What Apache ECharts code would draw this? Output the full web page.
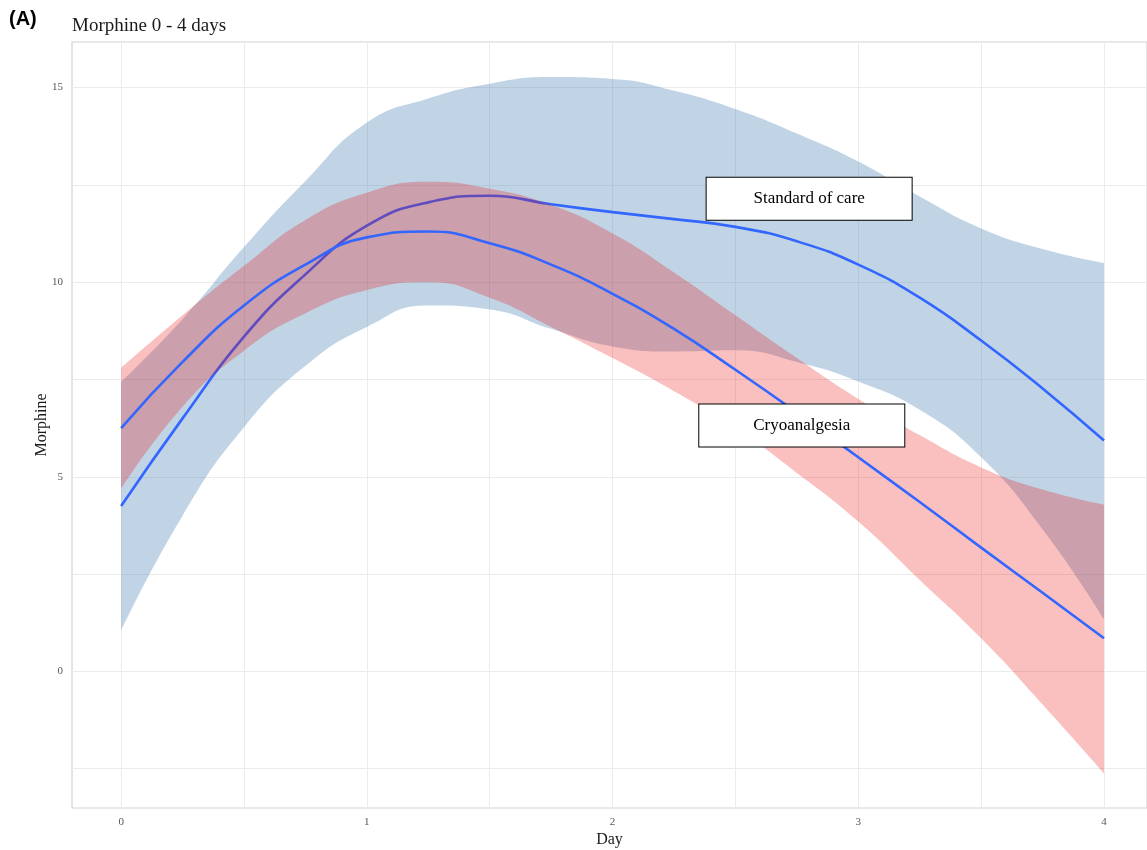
<!DOCTYPE html>
<html>
<head>
<meta charset="utf-8">
<script src="https://cdn.jsdelivr.net/npm/echarts@6/dist/echarts.min.js"></script>
<style>
  html, body { margin: 0; padding: 0; background: #ffffff; }
  #chart { width: 1147px; height: 850px; }
</style>
</head>
<body>
<div id="chart"></div>
<script>
// ---- data ----
const days = [0, 0.25, 0.5, 0.75, 1, 1.25, 1.5, 1.75, 2, 2.25, 2.5, 2.75, 3, 3.25, 3.5, 3.75, 4];

const socFit   = [4.25, 6.5, 8.6, 10.2, 11.45, 12.05, 12.22, 12.0, 11.8, 11.62, 11.42, 11.05, 10.45, 9.6, 8.5, 7.27, 5.93];
const socLower = [1.05, 4.0, 6.27, 7.85, 8.85, 9.4, 9.3, 8.8, 8.35, 8.22, 8.25, 7.95, 7.45, 6.72, 5.5, 3.65, 1.34];
const socUpper = [7.44, 9.05, 10.9, 12.6, 14.1, 14.72, 15.1, 15.27, 15.22, 14.92, 14.45, 13.82, 13.1, 12.2, 11.38, 10.85, 10.49];

const cryoFit   = [6.25, 7.95, 9.4, 10.45, 11.15, 11.3, 11.0, 10.45, 9.7, 8.8, 7.75, 6.65, 5.5, 4.35, 3.18, 2.02, 0.85];
const cryoLower = [4.69, 6.8, 8.24, 9.2, 9.8, 10.0, 9.6, 8.85, 8.05, 7.2, 6.25, 5.1, 3.85, 2.35, 0.85, -0.85, -2.62];
const cryoUpper = [7.8, 9.15, 10.42, 11.6, 12.3, 12.58, 12.4, 11.98, 11.25, 10.25, 9.15, 8.05, 7.0, 6.07, 5.24, 4.67, 4.28];

const labelTexts = ['Standard of care', 'Cryoanalgesia'];
const labelDay = [2.8, 2.77];
const labelMorphine = [12.14, 6.32];

const xLabelValues = [0, 1, 2, 3, 4];
const xTickValues = [0, 0.5, 1, 1.5, 2, 2.5, 3, 3.5, 4];
const yLabelValues = [0, 5, 10, 15];
const yTickValues = [-2.5, 0, 2.5, 5, 7.5, 10, 12.5, 15];

// ---- build series data: value first, day second (stack on the value dimension) ----
const rows = (arr) => arr.map((v, i) => [v, days[i]]);
const diffRows = (hi, lo) => hi.map((v, i) => [+(v - lo[i]).toFixed(3), days[i]]);

const serif = "'Liberation Serif', 'DejaVu Serif', serif";
const lineBlue = '#3366FF';
const hidden = { opacity: 0, width: 0 };
const enc = { x: 1, y: 0 };

const chart = echarts.init(document.getElementById('chart'), null, { renderer: 'canvas' });

chart.setOption({
  animation: false,
  backgroundColor: '#ffffff',
  title: [
    { text: '(A)', left: 4, top: 4,
      textStyle: { fontFamily: "'Liberation Sans', Arial, sans-serif", fontWeight: 'bold', fontSize: 20, color: '#000' } },
    { text: 'Morphine 0 - 4 days', left: 67, top: 12,
      textStyle: { fontFamily: serif, fontWeight: 'normal', fontSize: 19, color: '#1a1a1a' } }
  ],
  grid: {
    left: 72, top: 42, width: 1075, height: 766,
    outerBoundsMode: 'none',
    show: true, backgroundColor: '#ffffff', borderColor: '#d3d3d3', borderWidth: 1.2
  },
  xAxis: {
    type: 'value', min: -0.2, max: 4.175,
    name: 'Day', nameLocation: 'middle', nameGap: 24, nameMoveOverlap: false,
    nameTextStyle: { fontFamily: serif, fontSize: 16, color: '#1a1a1a' },
    axisLine: { show: false },
    axisTick: { show: false, customValues: xTickValues },
    axisLabel: { customValues: xLabelValues, fontFamily: serif, fontSize: 11, color: '#555', margin: 9 },
    splitLine: { show: true, lineStyle: { color: '#ebebeb', width: 1 } }
  },
  yAxis: {
    type: 'value', min: -3.51, max: 16.17,
    name: 'Morphine', nameLocation: 'middle', nameGap: 22, nameRotate: 90, nameMoveOverlap: false,
    nameTextStyle: { fontFamily: serif, fontSize: 16, color: '#1a1a1a' },
    axisLine: { show: false },
    axisTick: { show: false, customValues: yTickValues },
    axisLabel: { customValues: yLabelValues, fontFamily: serif, fontSize: 11, color: '#555', margin: 9 },
    splitLine: { show: true, lineStyle: { color: '#ebebeb', width: 1 } }
  },
  series: [
    { name: 'socLower', type: 'line', stack: 'soc', stackStrategy: 'all', smooth: 0.5, encode: enc,
      data: rows(socLower), showSymbol: false, lineStyle: hidden, z: 1, silent: true },
    { name: 'socBand', type: 'line', stack: 'soc', stackStrategy: 'all', smooth: 0.5, encode: enc,
      data: diffRows(socUpper, socLower), showSymbol: false, lineStyle: hidden, z: 1, silent: true,
      areaStyle: { color: 'rgba(70,130,180,0.34)', opacity: 1 } },
    { name: 'Standard of care', type: 'line', smooth: 0.5, encode: enc, data: rows(socFit), showSymbol: false,
      lineStyle: { color: lineBlue, width: 2.6 }, z: 2, silent: true },
    { name: 'cryoLower', type: 'line', stack: 'cryo', stackStrategy: 'all', smooth: 0.5, encode: enc,
      data: rows(cryoLower), showSymbol: false, lineStyle: hidden, z: 3, silent: true },
    { name: 'cryoBand', type: 'line', stack: 'cryo', stackStrategy: 'all', smooth: 0.5, encode: enc,
      data: diffRows(cryoUpper, cryoLower), showSymbol: false, lineStyle: hidden, z: 3, silent: true,
      areaStyle: { color: 'rgba(235,0,0,0.25)', opacity: 1 } },
    { name: 'Cryoanalgesia', type: 'line', smooth: 0.5, encode: enc, data: rows(cryoFit), showSymbol: false,
      lineStyle: { color: lineBlue, width: 2.6 }, z: 4, silent: true },
    { name: 'labels', type: 'scatter', z: 10, silent: true,
      data: labelTexts.map((t, i) => ({ name: t, value: [labelDay[i], labelMorphine[i]] })),
      symbolSize: 1, itemStyle: { color: 'rgba(0,0,0,0)', opacity: 1 },
      label: { show: true, position: 'inside', formatter: '{b}', opacity: 1,
               width: 205, height: 42, lineHeight: 42, align: 'center', verticalAlign: 'middle',
               backgroundColor: '#ffffff', borderColor: '#000000', borderWidth: 1, padding: 0,
               fontFamily: serif, fontSize: 17, color: '#000' } }
  ]
});
</script>
</body>
</html>
